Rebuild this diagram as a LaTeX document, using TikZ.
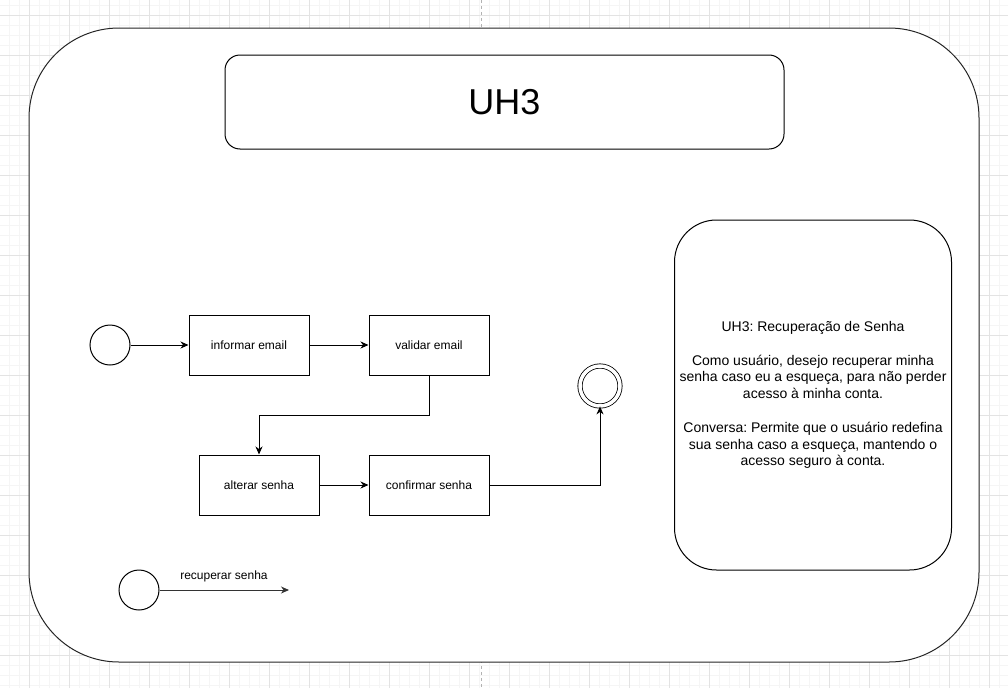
\documentclass[tikz,border=0pt]{standalone}
\usepackage{fontspec}
\setmainfont{Liberation Sans}
\frenchspacing
\usetikzlibrary{arrows.meta}
\begin{document}
\begin{tikzpicture}[x=1pt, y=-1pt, line width=1pt,
  minorgrid/.style={draw=black!4, line width=1pt},
  majorgrid/.style={draw=black!11, line width=1pt},
  pagebreak/.style={draw=black!30, dashed, dash pattern=on 3pt off 3pt, line width=1pt},
  panel/.style={draw=black!85, fill=white, inner sep=0pt},
  actbox/.style={draw, fill=white, minimum width=120pt, minimum height=60pt, inner sep=0pt,
    font=\fontsize{12}{14}\selectfont},
  startstate/.style={draw, circle, fill=white, minimum size=40pt, inner sep=0pt},
  endstate/.style={draw, circle, fill=white, minimum size=40pt, inner sep=0pt, double distance=3.5pt, line width=0.8pt},
  flow/.style={-{Stealth[length=8pt, width=7pt, inset=2.5pt]}}
]
\useasboundingbox (0,0) rectangle (1008,688);
\fill[white] (0,0) rectangle (1008,688);

% background grid
\foreach \x in {9,19,...,1008} \draw[minorgrid] (\x,0) -- (\x,688);
\foreach \y in {5,15,...,688} \draw[minorgrid] (0,\y) -- (1008,\y);
\foreach \x in {29,69,...,1008} \draw[majorgrid] (\x,0) -- (\x,688);
\foreach \y in {15,55,...,688} \draw[majorgrid] (0,\y) -- (1008,\y);
\draw[pagebreak] (481,0) -- (481,688);

% outer frame
\node[panel, rounded corners=90pt, minimum width=950pt, minimum height=634pt] (frame) at (504,345) {};

% title
\node[panel, draw=black, rounded corners=15pt, minimum width=559pt, minimum height=94pt,
  font=\fontsize{36}{43}\selectfont] (title) at (504.5,102) {UH3};

% user story
\node[panel, draw=black, rounded corners=42pt, minimum width=277pt, minimum height=350pt,
  align=center, font=\fontsize{14}{16.8}\selectfont] (story) at (813,395)
  {UH3: Recuperação de Senha\\[16.8pt]
   Como usuário, desejo recuperar minha\\
   senha caso eu a esqueça, para não perder\\
   acesso à minha conta.\\[16.8pt]
   Conversa: Permite que o usuário redefina\\
   sua senha caso a esqueça, mantendo o\\
   acesso seguro à conta.};

% activity flow
\node[startstate] (start) at (110,345) {};
\node[actbox] (inform) at (249,345) {informar email};
\node[actbox] (validate) at (429,345) {validar email};
\node[actbox] (change) at (259,485) {alterar senha};
\node[actbox] (confirm) at (429,485) {confirmar senha};
\node[endstate] (final) at (600,386) {};

\draw[flow] (start) -- (inform);
\draw[flow] (inform) -- (validate);
\draw[flow] (validate.south) -- ++(0,40) -| (change.north);
\draw[flow] (change) -- (confirm);
\draw[flow] (confirm.east) -| (final.south);

% legend
\node[startstate] (legendstart) at (139,590) {};
\coordinate (legendend) at (289,590);
\draw[flow, draw=black!80, fill=black] (legendstart) -- (legendend);
\node[font=\fontsize{12}{14}\selectfont] (legendlabel) at (224,576) {recuperar senha};
\end{tikzpicture}
\end{document}
